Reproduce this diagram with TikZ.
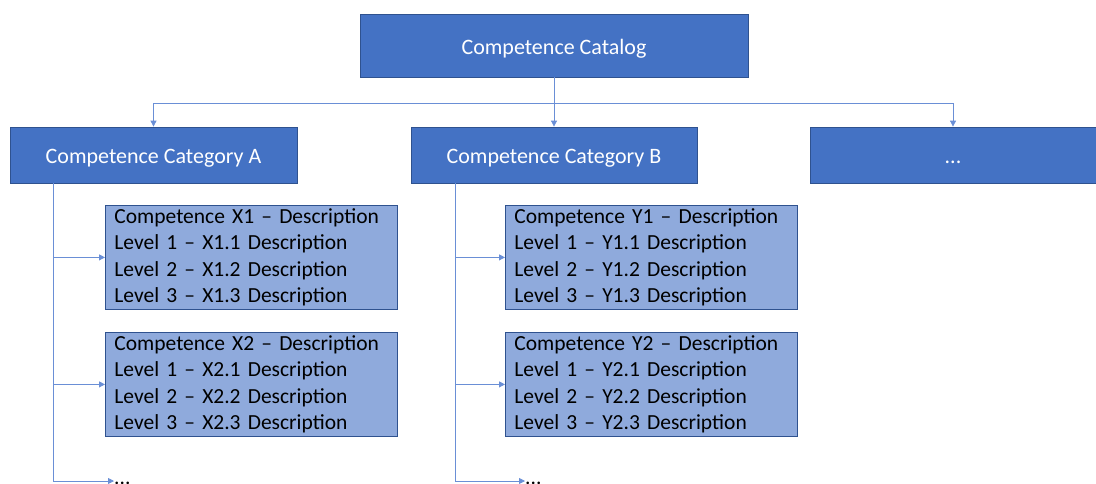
\documentclass[tikz,border=0pt]{standalone}
\usepackage{fontspec}
\setmainfont{Carlito}
\usetikzlibrary{arrows.meta}
\definecolor{darkfill}{HTML}{4472C4}
\definecolor{boxedge}{HTML}{2F528F}
\definecolor{lightfill}{HTML}{8FAADC}
\definecolor{wire}{HTML}{6A8FD6}
\begin{document}
\begin{tikzpicture}[x=1pt,y=-1pt,
  topbox/.style={draw=boxedge,fill=darkfill,line width=0.8pt,text=white,
    font=\fontsize{22}{26}\selectfont,inner sep=0pt,text height=20pt,text depth=3pt},
  itembox/.style={draw=boxedge,fill=lightfill,line width=0.8pt,text=black,
    font=\fontsize{21.5}{26.5}\selectfont,align=left,anchor=north west,
    minimum width=292pt,minimum height=104pt,text width=274pt,inner xsep=9pt,inner ysep=0pt},
  wireline/.style={draw=wire,line width=0.8pt},
  arr/.style={wireline,-{Triangle[length=6pt,width=6pt]}},
  moretext/.style={font=\fontsize{21.5}{26}\selectfont,anchor=base west,inner sep=0pt}]
\useasboundingbox (0,0) rectangle (1096,483);
% top level
\node[topbox,minimum width=388pt,minimum height=63pt] (cat) at (554,45.5) {Competence Catalog};
% categories
\node[topbox,minimum width=287pt,minimum height=56pt] (catA) at (153.5,155) {Competence Category A};
\node[topbox,minimum width=286pt,minimum height=56pt] (catB) at (554,155) {Competence Category B};
\node[topbox,minimum width=286pt,minimum height=56pt] (catC) at (953,155) {...};
% competences of category A
\node[itembox] (x1) at (105,205) {Competence X1 -- Description\\Level 1 -- X1.1 Description\\Level 2 -- X1.2 Description\\Level 3 -- X1.3 Description};
\node[itembox] (x2) at (105,332) {Competence X2 -- Description\\Level 1 -- X2.1 Description\\Level 2 -- X2.2 Description\\Level 3 -- X2.3 Description};
% competences of category B
\node[itembox] (y1) at (505,205) {Competence Y1 -- Description\\Level 1 -- Y1.1 Description\\Level 2 -- Y1.2 Description\\Level 3 -- Y1.3 Description};
\node[itembox] (y2) at (505,332) {Competence Y2 -- Description\\Level 1 -- Y2.1 Description\\Level 2 -- Y2.2 Description\\Level 3 -- Y2.3 Description};
% trailing ellipses
\node[moretext] (moreA) at (114,484) {...};
\node[moretext] (moreB) at (525,484) {...};
% helper coordinates
\coordinate (bus) at (554,103);
\coordinate (spA) at (53,481);
\coordinate (spB) at (455,481);
% catalog to categories
\draw[wireline] (cat.south) -- (bus);
\draw[arr] (bus) -| (catA.north);
\draw[arr] (bus) -- (catB.north);
\draw[arr] (bus) -| (catC.north);
% category spines
\draw[wireline] (catA.south -| spA) -- (spA);
\draw[wireline] (catB.south -| spB) -- (spB);
\draw[arr] (x1.west -| spA) -- (x1.west);
\draw[arr] (x2.west -| spA) -- (x2.west);
\draw[arr] (spA) -- (moreA.base west |- spA);
\draw[arr] (y1.west -| spB) -- (y1.west);
\draw[arr] (y2.west -| spB) -- (y2.west);
\draw[arr] (spB) -- (moreB.base west |- spB);
\end{tikzpicture}
\end{document}
